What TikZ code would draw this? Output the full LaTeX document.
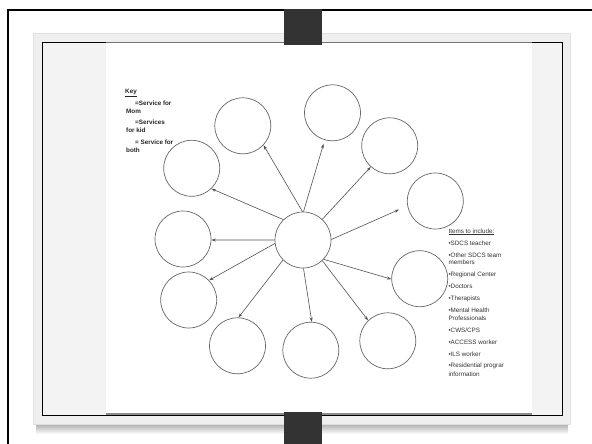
\documentclass[tikz,border=0pt]{standalone}
\usepackage{fontspec}
\setmainfont{Liberation Sans}
\usetikzlibrary{arrows.meta}
\definecolor{tabgray}{HTML}{333333}
\definecolor{panelgray}{HTML}{EFEFEF}
\definecolor{innergray}{HTML}{F3F3F3}
\begin{document}
\begin{tikzpicture}[x=1pt,y=-1pt,
  ring/.style={draw=black!60, line width=0.7pt, circle, minimum size=56pt, inner sep=0pt},
  spoke/.style={draw=black!68, line width=0.6pt, -{Stealth[length=4.5pt,width=3pt]}},
  keytxt/.style={anchor=base west, inner sep=0pt, font=\fontsize{6.3}{7}\selectfont\bfseries, text=black!85},
  itemtxt/.style={anchor=base west, inner sep=0pt, font=\fontsize{6.3}{7}\selectfont, text=black!80}]
\useasboundingbox (0,0) rectangle (592,444);
\clip (0,0) rectangle (592,444);
\fill[white] (0,0) rectangle (592,444);
% outer frame
\draw[line width=2pt] (8.3,10) rectangle (610,460);
% panel with shadow
\shade[top color=black!35, bottom color=white] (36,423) rectangle (568,434);
\filldraw[fill=panelgray, draw=black!12, line width=0.5pt] (33.3,33.3) rectangle (570.7,424);
\filldraw[fill=innergray, draw=black, line width=0.8pt] (42.5,42.7) rectangle (562.3,415);
\fill[white] (106,42.7) rectangle (531.7,414);
\draw[black!55, line width=0.8pt] (106,42.7) -- (531.7,42.7);
\draw[black!45, line width=1.5pt] (106,414) -- (531.7,414);
% tabs
\fill[tabgray] (284,9) rectangle (322,45);
\fill[tabgray] (284,412) rectangle (322,444);
% circles
\node[ring] (c0) at (303,240) {};
\node[ring] (A) at (242.8,125.8) {};
\node[ring] (B) at (332.5,112.8) {};
\node[ring] (Cc) at (389.7,145.8) {};
\node[ring] (D) at (435.3,201) {};
\node[ring] (E) at (191.7,168.3) {};
\node[ring] (F) at (183,239) {};
\node[ring] (G) at (188.7,300) {};
\node[ring] (H) at (237.5,345.8) {};
\node[ring] (I) at (310.8,350.2) {};
\node[ring] (J) at (387.8,340.8) {};
\node[ring] (K) at (419.7,278.7) {};
% spokes
\draw[spoke] (c0.91) -- (A.317);
\draw[spoke, shorten >=4pt] (c0.89) -- (B.254);
\draw[spoke] (c0.47) -- (Cc.228);
\draw[spoke, shorten >=9pt] (c0.1) -- (D.190);
\draw[spoke] (c0.134) -- (E.314);
\draw[spoke] (c0.180) -- (F.358);
\draw[spoke] (c0.187) -- (G.44);
\draw[spoke] (c0.225) -- (H.88);
\draw[spoke] (c0.271) -- (I.88);
\draw[spoke] (c0.313) -- (J.134);
\draw[spoke] (c0.317) -- (K.181);
% key
\node[keytxt] (key) at (125,93.9) {\underline{Key}};
\node[keytxt] (k1a) at (135,105.5) {=Service for};
\node[keytxt] (k1b) at (126,113.2) {Mom};
\node[keytxt] (k2a) at (135,124.9) {=Services};
\node[keytxt] (k2b) at (126,132.2) {for kid};
\node[keytxt] (k3a) at (135,144.5) {= Service for};
\node[keytxt] (k3b) at (126,152.2) {both};
% items
\node[itemtxt] (i0) at (448.3,233.2) {\underline{Items to include:}};
\node[itemtxt] (i1) at (448.3,245.5) {•SDCS teacher};
\node[itemtxt] (i2) at (448.3,257.2) {•Other SDCS team};
\node[itemtxt] (i2b) at (448.3,264.9) {members};
\node[itemtxt] (i3) at (448.3,276.5) {•Regional Center};
\node[itemtxt] (i4) at (448.3,288.2) {•Doctors};
\node[itemtxt] (i5) at (448.3,300.5) {•Therapists};
\node[itemtxt] (i6) at (448.3,312.2) {•Mental Health};
\node[itemtxt] (i6b) at (448.3,320.5) {Professionals};
\node[itemtxt] (i7) at (448.3,332.2) {•CWS/CPS};
\node[itemtxt] (i8) at (448.3,344.9) {•ACCESS worker};
\node[itemtxt] (i9) at (448.3,356.5) {•ILS worker};
\node[itemtxt] (i10) at (448.3,367.9) {•Residential prograr};
\node[itemtxt] (i10b) at (448.3,376.2) {information};
\end{tikzpicture}
\end{document}
